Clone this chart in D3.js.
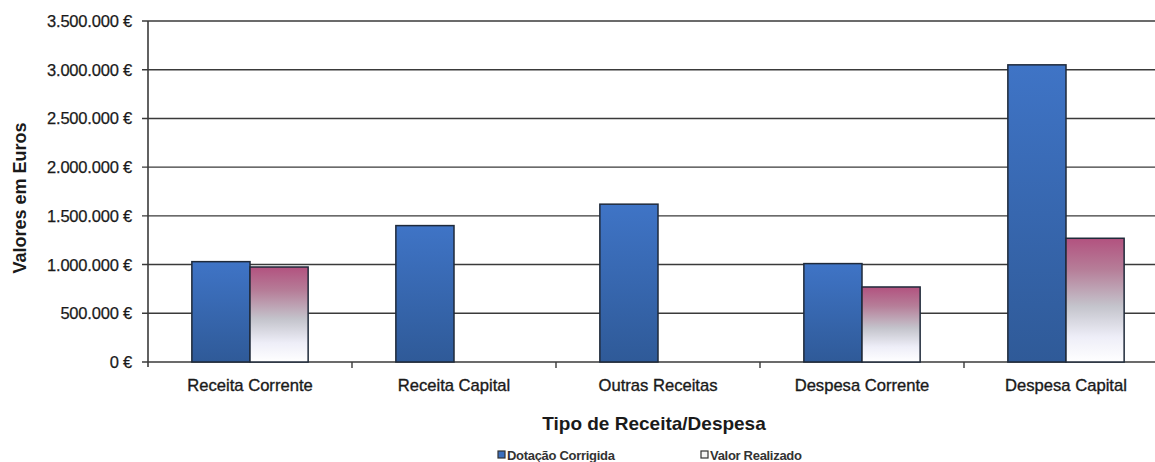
<!DOCTYPE html>
<html>
<head>
<meta charset="utf-8">
<script src="https://cdn.jsdelivr.net/npm/d3@7"></script>
<style>
  html, body { margin: 0; padding: 0; background: #fff; }
  svg { display: block; font-family: "Liberation Sans", Arial, sans-serif; }
</style>
</head>
<body>
<svg id="chart" width="1155" height="462"></svg>
<script>
const categories = ["Receita Corrente", "Receita Capital", "Outras Receitas", "Despesa Corrente", "Despesa Capital"];
const seriesNames = ["Dotação Corrigida", "Valor Realizado"];
const dotacaoCorrigida = [1030000, 1400000, 1620000, 1010000, 3050000];
const valorRealizado = [975000, 0, 0, 770000, 1270000];
const yTicks = [0, 500000, 1000000, 1500000, 2000000, 2500000, 3000000, 3500000];
const yTickLabels = ["0 €", "500.000 €", "1.000.000 €", "1.500.000 €", "2.000.000 €", "2.500.000 €", "3.000.000 €", "3.500.000 €"];
const yTitle = "Valores em Euros";
const xTitle = "Tipo de Receita/Despesa";

const svg = d3.select("#chart");
const plotLeft = 148, plotRight = 1168, plotTop = 21, plotBottom = 362;

const defs = svg.append("defs");
const gBlue = defs.append("linearGradient").attr("id", "gBlue").attr("x1", 0).attr("y1", 0).attr("x2", 0).attr("y2", 1);
gBlue.append("stop").attr("offset", "0%").attr("stop-color", "#3f74c6");
gBlue.append("stop").attr("offset", "100%").attr("stop-color", "#2f5a98");
const gPink = defs.append("linearGradient").attr("id", "gPink").attr("x1", 0).attr("y1", 0).attr("x2", 0).attr("y2", 1);
gPink.append("stop").attr("offset", "0%").attr("stop-color", "#b2527f");
gPink.append("stop").attr("offset", "25%").attr("stop-color", "#b67d98");
gPink.append("stop").attr("offset", "55%").attr("stop-color", "#c4c4cc");
gPink.append("stop").attr("offset", "80%").attr("stop-color", "#eeeef8");
gPink.append("stop").attr("offset", "100%").attr("stop-color", "#ffffff");

const x0 = d3.scaleBand().domain(categories).range([plotLeft, plotRight]).paddingInner(0).paddingOuter(0);
const groupPad = 0.215;
const x1 = d3.scaleBand().domain(seriesNames)
  .range([x0.bandwidth() * groupPad, x0.bandwidth() * (1 - groupPad)]);
const y = d3.scaleLinear().domain([0, 3500000]).range([plotBottom, plotTop]);

// gridlines
svg.append("g").selectAll("line").data(yTicks).join("line")
  .attr("x1", plotLeft - 6).attr("x2", 1155)
  .attr("y1", d => y(d)).attr("y2", d => y(d))
  .attr("stroke", "#3a3a3a").attr("stroke-width", 1.4);

// y axis line
svg.append("line").attr("x1", plotLeft).attr("x2", plotLeft).attr("y1", plotTop).attr("y2", plotBottom + 5)
  .attr("stroke", "#3a3a3a").attr("stroke-width", 1.6);

// y tick labels
svg.append("g").selectAll("text").data(yTicks).join("text")
  .attr("x", 132).attr("y", d => y(d)).attr("dy", "0.36em")
  .attr("text-anchor", "end").attr("font-size", 16.5).attr("letter-spacing", -0.2)
  .attr("fill", "#1a1a1a").attr("stroke", "#1a1a1a").attr("stroke-width", 0.25)
  .text((d, i) => yTickLabels[i]);

// bars
const rows = categories.map((c, i) => ({ cat: c, vals: [dotacaoCorrigida[i], valorRealizado[i]] }));
const groups = svg.append("g").selectAll("g").data(rows).join("g")
  .attr("transform", d => `translate(${x0(d.cat)},0)`);
groups.selectAll("rect").data(d => d.vals.map((v, j) => ({ name: seriesNames[j], v })).filter(e => e.v > 0))
  .join("rect")
  .attr("x", d => x1(d.name)).attr("width", x1.bandwidth())
  .attr("y", d => y(d.v)).attr("height", d => y(0) - y(d.v))
  .attr("fill", d => d.name === seriesNames[0] ? "url(#gBlue)" : "url(#gPink)")
  .attr("stroke", "#1f2a3a").attr("stroke-width", 1.5);

// x axis ticks (category boundaries)
svg.append("g").selectAll("line").data(categories.slice(1)).join("line")
  .attr("x1", d => x0(d)).attr("x2", d => x0(d))
  .attr("y1", plotBottom).attr("y2", plotBottom + 6)
  .attr("stroke", "#3a3a3a").attr("stroke-width", 1.4);

// x labels
svg.append("g").selectAll("text").data(categories).join("text")
  .attr("x", d => x0(d) + x0.bandwidth() / 2).attr("y", 391)
  .attr("text-anchor", "middle").attr("font-size", 16.6).attr("fill", "#1a1a1a")
  .attr("stroke", "#1a1a1a").attr("stroke-width", 0.35)
  .text(d => d);

// axis titles
svg.append("text").attr("x", 654).attr("y", 430).attr("text-anchor", "middle")
  .attr("font-size", 19).attr("font-weight", "bold").attr("fill", "#1a1a1a").text(xTitle);
svg.append("text").attr("transform", "translate(26,198) rotate(-90)").attr("text-anchor", "middle")
  .attr("font-size", 18).attr("font-weight", "bold").attr("fill", "#1a1a1a").text(yTitle);

// legend
const legendX = [498, 701];
const lg = svg.append("g").selectAll("g").data(seriesNames).join("g")
  .attr("transform", (d, i) => `translate(${legendX[i]},455)`);
lg.append("rect").attr("x", 0).attr("y", -4).attr("width", 7).attr("height", 7)
  .attr("fill", (d, i) => i === 0 ? "#3d6fbd" : "#f4f4f4").attr("stroke", "#333").attr("stroke-width", 1.2);
lg.append("text").attr("x", 9).attr("y", 4.5).attr("font-size", 13).attr("font-weight", "bold")
  .attr("letter-spacing", -0.3).attr("fill", "#333").text(d => d);
</script>
</body>
</html>
